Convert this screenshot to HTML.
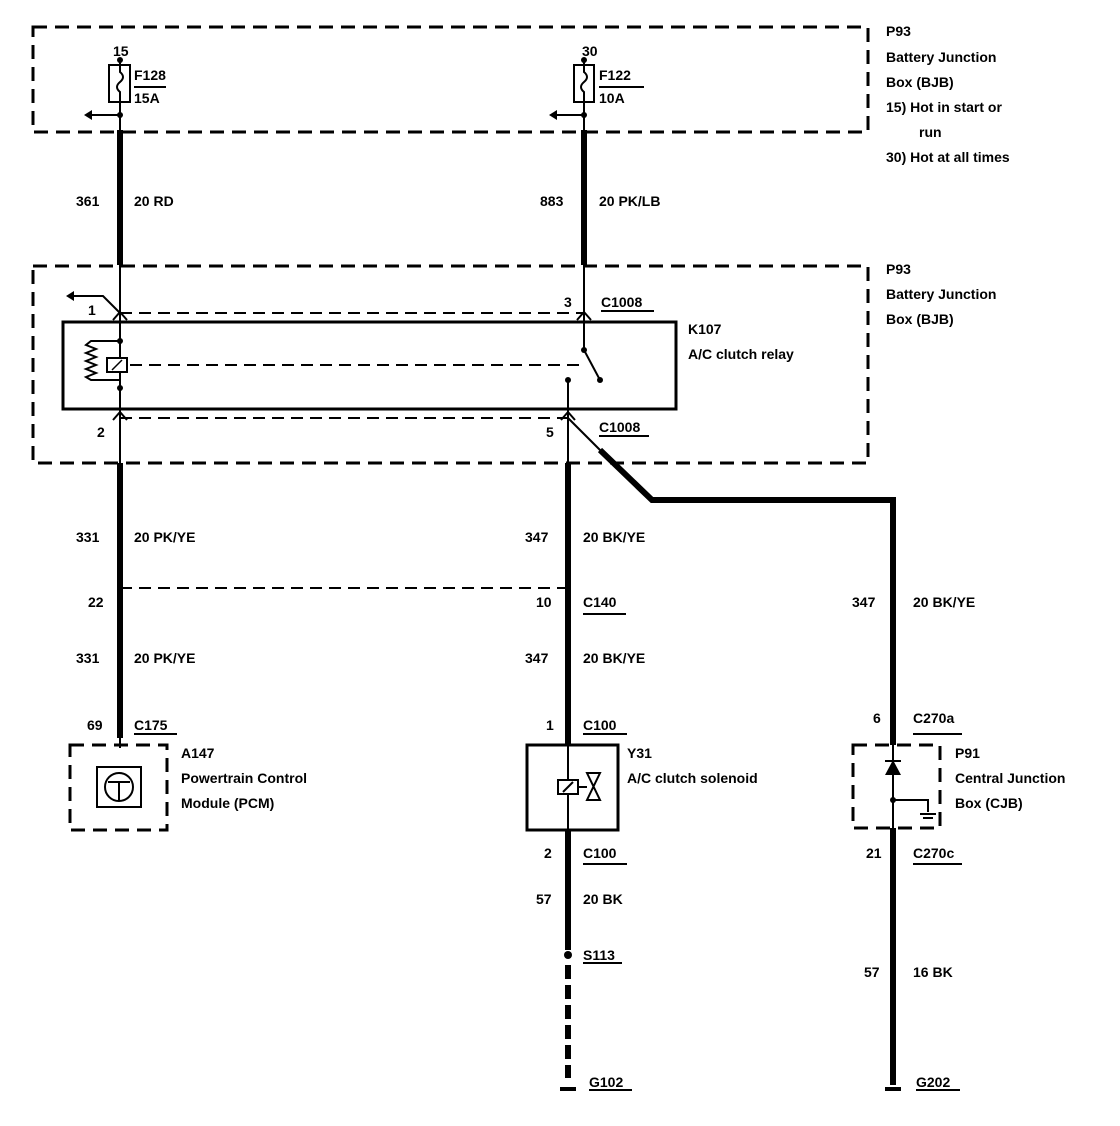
<!DOCTYPE html>
<html><head><style>body{margin:0;background:#fff}svg{display:block}text{font-family:"Liberation Sans",sans-serif;font-size:14px;font-weight:bold;fill:#000}</style></head><body>
<svg width="1120" height="1126" viewBox="0 0 1120 1126" xmlns="http://www.w3.org/2000/svg">
<g fill="none" stroke="#000">
<rect x="33" y="27" width="835" height="105" stroke-width="3" stroke-dasharray="14,8"/>
<rect x="33" y="266" width="835" height="197" stroke-width="3" stroke-dasharray="14,8"/>
<rect x="109" y="65" width="21" height="37" stroke-width="2"/>
<rect x="574" y="65" width="20" height="37" stroke-width="2"/>
<path d="M120 58 V72 q6 5 0 10 q-6 5 0 10 V132" stroke-width="2"/>
<path d="M584 58 V72 q6 5 0 10 q-6 5 0 10 V132" stroke-width="2"/>
<path d="M120 115 H90 M584 115 H555" stroke-width="2"/>
<line x1="134" y1="87" x2="166" y2="87" stroke-width="2"/>
<line x1="599" y1="87" x2="644" y2="87" stroke-width="2"/>
<path d="M120 130 V265 M584 130 V265" stroke-width="6"/>
<path d="M120 265 V465 M584 265 V350" stroke-width="2"/>
<rect x="63" y="322" width="613" height="87" stroke-width="3"/>
<path d="M120 313 H584 M120 418 H568" stroke-width="2" stroke-dasharray="12,7"/>
<path d="M130 365 H580" stroke-width="2" stroke-dasharray="12,7"/>
<path d="M120 341 H91 l-5 4 l10 4 l-10 4 l10 4 l-10 4 l10 4 l-10 4 l10 4 l-10 4 l5 3 H120" stroke-width="2"/>
<rect x="107" y="358" width="20" height="14" stroke-width="2" fill="#fff"/>
<path d="M112 370 l10 -10" stroke-width="1.5"/>
<path d="M584 350 L600 380 M568 380 V465" stroke-width="2"/>
<path d="M113 320 L120 312 L127 320 M113 420 L120 412 L127 420 M577 320 L584 312 L591 320 M561 420 L568 412 L575 420" stroke-width="2"/>
<path d="M120 313 L103 296 H72" stroke-width="2"/>
<path d="M120 463 V738 M568 463 V745 M568 830 V950" stroke-width="6"/>
<path d="M600 450 L652 500 H893 V745 M893 828 V1085" stroke-width="6"/>
<path d="M568 418 L602 452" stroke-width="2"/>
<path d="M120 588 H568" stroke-width="2" stroke-dasharray="12,7"/>
<path d="M568 965 V1078" stroke-width="6" stroke-dasharray="14,6"/>
<path d="M568 745 V830 M893 745 V828" stroke-width="2"/>
<path d="M120 738 V748" stroke-width="2"/>
<rect x="70" y="745" width="97" height="85" stroke-width="3" stroke-dasharray="14,8"/>
<rect x="97" y="767" width="44" height="40" stroke-width="2"/>
<circle cx="119" cy="787" r="14" stroke-width="2"/>
<path d="M108 782 H130 M119 782 V800" stroke-width="2"/>
<rect x="527" y="745" width="91" height="85" stroke-width="3"/>
<rect x="558" y="780" width="20" height="14" stroke-width="2" fill="#fff"/>
<path d="M563 792 l10 -10 M578 787 H587 M587 773 H600 L587 800 H600 Z" stroke-width="2"/>
<rect x="853" y="745" width="87" height="83" stroke-width="3" stroke-dasharray="14,8"/>
<path d="M893 800 H928 V812 M920 814 H936 M923 818 H933" stroke-width="2"/>
<path d="M601 311 H654 M599 436 H649 M583 614 H626 M134 734 H177 M583 734 H627 M913 734 H962 M583 864 H627 M913 864 H962 M583 963 H622 M589 1090 H632 M916 1090 H960" stroke-width="2"/>
<path d="M560 1089 H576 M885 1089 H901" stroke-width="4"/>
</g>
<g fill="#000">
<circle cx="120" cy="60" r="3"/><circle cx="584" cy="60" r="3"/>
<circle cx="120" cy="115" r="3"/><circle cx="584" cy="115" r="3"/>
<path d="M84 115 l8 -5 v10z M549 115 l8 -5 v10z M66 296 l8 -5 v10z"/>
<circle cx="120" cy="341" r="3"/><circle cx="120" cy="388" r="3"/>
<circle cx="584" cy="350" r="3"/><circle cx="600" cy="380" r="3"/><circle cx="568" cy="380" r="3"/>
<circle cx="568" cy="955" r="4"/><circle cx="893" cy="800" r="3"/>
<path d="M885 775 H901 L893 760Z"/>
<rect x="885" y="760" width="16" height="2"/>
</g>
<text x="113" y="56">15</text><text x="582" y="56">30</text>
<text x="134" y="80">F128</text><text x="134" y="103">15A</text>
<text x="599" y="80">F122</text><text x="599" y="103">10A</text>
<text x="886" y="36">P93</text><text x="886" y="62">Battery Junction</text><text x="886" y="87">Box (BJB)</text>
<text x="886" y="112">15)  Hot in start or</text><text x="919" y="137">run</text><text x="886" y="162">30)  Hot at all times</text>
<text x="76" y="206">361</text><text x="134" y="206">20 RD</text>
<text x="540" y="206">883</text><text x="599" y="206">20 PK/LB</text>
<text x="886" y="274">P93</text><text x="886" y="299">Battery Junction</text><text x="886" y="324">Box (BJB)</text>
<text x="88" y="315">1</text><text x="564" y="307">3</text><text x="601" y="307">C1008</text>
<text x="688" y="334">K107</text><text x="688" y="359">A/C clutch relay</text>
<text x="97" y="437">2</text><text x="546" y="437">5</text><text x="599" y="432">C1008</text>
<text x="76" y="542">331</text><text x="134" y="542">20 PK/YE</text>
<text x="525" y="542">347</text><text x="583" y="542">20 BK/YE</text>
<text x="88" y="607">22</text><text x="536" y="607">10</text><text x="583" y="607">C140</text>
<text x="852" y="607">347</text><text x="913" y="607">20 BK/YE</text>
<text x="76" y="663">331</text><text x="134" y="663">20 PK/YE</text>
<text x="525" y="663">347</text><text x="583" y="663">20 BK/YE</text>
<text x="87" y="730">69</text><text x="134" y="730">C175</text>
<text x="546" y="730">1</text><text x="583" y="730">C100</text>
<text x="873" y="723">6</text><text x="913" y="723">C270a</text>
<text x="181" y="758">A147</text><text x="181" y="783">Powertrain Control</text><text x="181" y="808">Module (PCM)</text>
<text x="627" y="758">Y31</text><text x="627" y="783">A/C clutch solenoid</text>
<text x="955" y="758">P91</text><text x="955" y="783">Central Junction</text><text x="955" y="808">Box (CJB)</text>
<text x="544" y="858">2</text><text x="583" y="858">C100</text>
<text x="866" y="858">21</text><text x="913" y="858">C270c</text>
<text x="536" y="904">57</text><text x="583" y="904">20 BK</text>
<text x="583" y="960">S113</text>
<text x="864" y="977">57</text><text x="913" y="977">16 BK</text>
<text x="589" y="1087">G102</text><text x="916" y="1087">G202</text>
</svg>
</body></html>
